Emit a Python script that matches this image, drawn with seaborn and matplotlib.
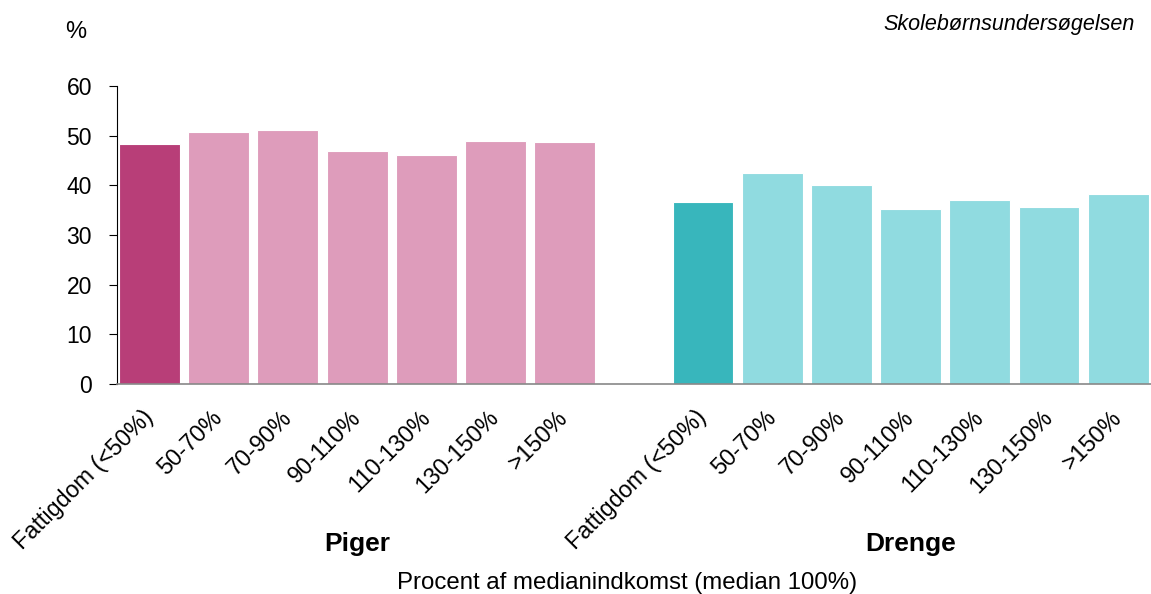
import pandas as pd
import seaborn as sns
import matplotlib.pyplot as plt
from matplotlib.transforms import ScaledTranslation

# Data
income_groups = ['Fattigdom (<50%)', '50-70%', '70-90%', '90-110%', '110-130%', '130-150%', '>150%']
piger = [48.3, 50.7, 51.1, 46.9, 46.1, 48.9, 48.7]
drenge = [36.6, 42.5, 40.1, 35.2, 37.1, 35.7, 38.3]

pink_dark, pink_light = '#B83E78', '#DE9CBB'
teal_dark, teal_light = '#38B6BC', '#90DBE0'

rows = []
for i, g in enumerate(income_groups):
    rows.append({'key': f'P{i}', 'label': g, 'value': piger[i]})
for i, g in enumerate(income_groups):
    rows.append({'key': f'D{i}', 'label': g, 'value': drenge[i]})
df = pd.DataFrame(rows)

order = [f'P{i}' for i in range(7)] + ['gap'] + [f'D{i}' for i in range(7)]
palette = {f'P{i}': (pink_dark if i == 0 else pink_light) for i in range(7)}
palette.update({f'D{i}': (teal_dark if i == 0 else teal_light) for i in range(7)})
palette['gap'] = 'white'

sns.set_style('white')
plt.rcParams['font.family'] = ['Liberation Sans', 'DejaVu Sans']
plt.rcParams['text.color'] = 'black'
plt.rcParams['xtick.color'] = 'black'
plt.rcParams['ytick.color'] = 'black'

fig = plt.figure(figsize=(11.51, 5.94), dpi=100)
ax = fig.add_axes([0.1017, 0.3535, 0.898, 0.5017])

sns.barplot(data=df, x='key', y='value', hue='key', order=order, hue_order=order,
            palette=palette, legend=False, width=0.88, saturation=1,
            edgecolor='white', linewidth=0.8, ax=ax)

ax.set_ylim(0, 60)
ax.set_xlim(-0.47, 14.47)
ax.set_yticks(range(0, 61, 10))
ax.tick_params(axis='y', labelsize=16.5, length=6, width=0.8, direction='out', left=True, pad=12)
ax.set_ylabel('')
ax.set_xlabel('')

labels = [g for g in income_groups] + [''] + [g for g in income_groups]
ax.set_xticks(range(15))
ax.set_xticklabels(labels, rotation=45, ha='right', rotation_mode='anchor', fontsize=16.8)
ax.tick_params(axis='x', length=0, pad=10)
# nudge rotated labels down-left like the original
shift = ScaledTranslation(-8 / 100, -8 / 100, fig.dpi_scale_trans)
for lab in ax.get_xticklabels():
    lab.set_transform(lab.get_transform() + shift)

for s in ['top', 'right']:
    ax.spines[s].set_visible(False)
ax.spines['left'].set_color('black')
ax.spines['left'].set_linewidth(0.8)
ax.spines['bottom'].set_color('#888888')
ax.spines['bottom'].set_linewidth(1.2)

ax.text(3, -32.3, 'Piger', ha='center', va='center', fontsize=19, fontweight='bold')
ax.text(11, -32.3, 'Drenge', ha='center', va='center', fontsize=19, fontweight='bold')

fig.text(0.545, 0.019, 'Procent af medianindkomst (median 100%)', ha='center', va='center', fontsize=17.3)
fig.text(0.066, 0.946, '%', ha='center', va='center', fontsize=17)
fig.text(0.986, 0.958, 'Skolebørnsundersøgelsen', ha='right', va='center', fontsize=15.5, style='italic')

fig.savefig('out.png', dpi=100)
